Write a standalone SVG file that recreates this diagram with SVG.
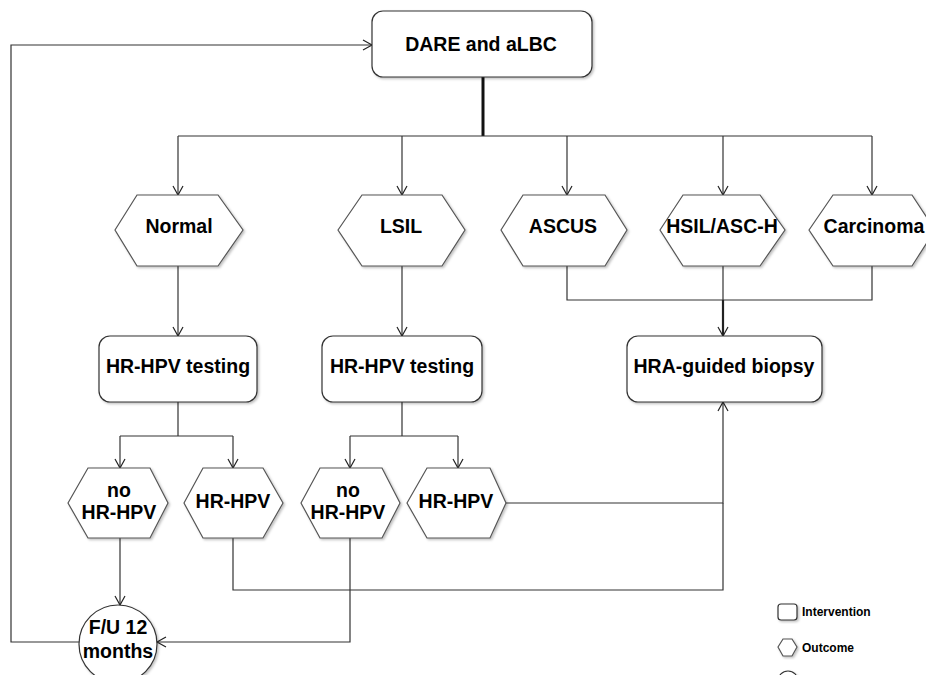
<svg xmlns="http://www.w3.org/2000/svg" width="926" height="675" viewBox="0 0 926 675">
<defs>
<marker id="arr" markerWidth="12" markerHeight="12" refX="10" refY="6" orient="auto" markerUnits="userSpaceOnUse">
<path d="M1,1 L10,6 L1,11" fill="none" stroke="#222" stroke-width="1.2"/>
</marker>
<filter id="sh" x="-10%" y="-10%" width="130%" height="130%">
<feDropShadow dx="1.5" dy="1.5" stdDeviation="1.2" flood-color="#000" flood-opacity="0.25"/>
</filter>
</defs>
<style>
.box{fill:#fff;stroke:#333;stroke-width:1.2;filter:url(#sh)}
.hex{fill:#fff;stroke:#555;stroke-width:1.2;filter:url(#sh)}
.t{font-family:"Liberation Sans",Arial,sans-serif;font-weight:bold;font-size:19.5px;fill:#000;text-anchor:middle}
.lg{font-family:"Liberation Sans",Arial,sans-serif;font-weight:bold;font-size:12px;fill:#000}
.c{fill:none;stroke:#333;stroke-width:1.2}
</style>
<rect width="926" height="675" fill="#fff"/>
<g id="connectors">
<path class="c" d="M483,77 V136" style="stroke-width:3;stroke:#111"/>
<path class="c" d="M178,136 H872"/>
<path class="c" d="M178,136 V195" marker-end="url(#arr)"/>
<path class="c" d="M402,136 V195" marker-end="url(#arr)"/>
<path class="c" d="M567,136 V195" marker-end="url(#arr)"/>
<path class="c" d="M723,136 V195" marker-end="url(#arr)"/>
<path class="c" d="M872,136 V195" marker-end="url(#arr)"/>
<path class="c" d="M178,266 V336" marker-end="url(#arr)"/>
<path class="c" d="M402,266 V336" marker-end="url(#arr)"/>
<path class="c" d="M567,266 V300 H872 V266"/>
<path class="c" d="M723,266 V336" marker-end="url(#arr)"/>
<path class="c" d="M723,300 V335" style="stroke-width:2.2;stroke:#222"/>
<path class="c" d="M178,402 V436 M120,436 H233"/>
<path class="c" d="M120,436 V468" marker-end="url(#arr)"/>
<path class="c" d="M233,436 V468" marker-end="url(#arr)"/>
<path class="c" d="M402,402 V436 M350,436 H458"/>
<path class="c" d="M350,436 V468" marker-end="url(#arr)"/>
<path class="c" d="M458,436 V468" marker-end="url(#arr)"/>
<path class="c" d="M506,503 H723 V402" marker-end="url(#arr)"/>
<path class="c" d="M233,538 V590 H723 V503"/>
<path class="c" d="M120,538 V605" marker-end="url(#arr)"/>
<path class="c" d="M350,538 V642 H157" marker-end="url(#arr)"/>
<path class="c" d="M80,642 H11 V45 H372" marker-end="url(#arr)"/>
</g>
<g id="dare">
<rect class="box" x="372" y="11" width="220" height="66" rx="11"/>
<text class="t" x="481" y="51">DARE and aLBC</text>
</g>
<g id="normal">
<polygon class="hex" points="115,230 137,195 218,195 243,230 218,266 137,266"/>
<text class="t" x="179" y="233">Normal</text>
</g>
<g id="lsil">
<polygon class="hex" points="338,230 362,195 442,195 465,230 442,266 362,266"/>
<text class="t" x="401" y="233">LSIL</text>
</g>
<g id="ascus">
<polygon class="hex" points="501,230 523,195 605,195 627,230 605,266 523,266"/>
<text class="t" x="563" y="233">ASCUS</text>
</g>
<g id="hsil">
<polygon class="hex" points="660,230 683,195 760,195 785,230 760,266 683,266"/>
<text class="t" x="722" y="233">HSIL/ASC-H</text>
</g>
<g id="carcinoma">
<polygon class="hex" points="809,230 833,195 912,195 935,230 912,266 833,266"/>
<text class="t" x="874" y="233">Carcinoma</text>
</g>
<g id="hrhpv-testing-1">
<rect class="box" x="99" y="336" width="158" height="66" rx="11"/>
<text class="t" x="178" y="373">HR-HPV testing</text>
</g>
<g id="hrhpv-testing-2">
<rect class="box" x="322" y="336" width="160" height="66" rx="11"/>
<text class="t" x="402" y="373">HR-HPV testing</text>
</g>
<g id="hra">
<rect class="box" x="627" y="336" width="195" height="66" rx="11"/>
<text class="t" x="724" y="373">HRA-guided biopsy</text>
</g>
<g id="no-hrhpv-1">
<polygon class="hex" points="68,503 88,468 150,468 168,503 150,538 88,538"/>
<text class="t" x="119" y="497">no</text>
<text class="t" x="119" y="519">HR-HPV</text>
</g>
<g id="hrhpv-1">
<polygon class="hex" points="184,503 203,468 263,468 283,503 263,538 203,538"/>
<text class="t" x="233" y="508">HR-HPV</text>
</g>
<g id="no-hrhpv-2">
<polygon class="hex" points="301,503 320,468 382,468 400,503 382,538 320,538"/>
<text class="t" x="348" y="497">no</text>
<text class="t" x="348" y="519">HR-HPV</text>
</g>
<g id="hrhpv-2">
<polygon class="hex" points="407,503 427,468 490,468 506,503 490,538 427,538"/>
<text class="t" x="456" y="508">HR-HPV</text>
</g>
<g id="fu">
<circle class="box" cx="118" cy="644" r="39"/>
<text class="t" x="118" y="634">F/U 12</text>
<text class="t" x="118" y="658">months</text>
</g>
<g id="legend">
<rect class="box" x="778" y="604" width="19" height="16" rx="3"/>
<text class="lg" x="802" y="616">Intervention</text>
<polygon class="hex" points="778,647 783,639 792,639 797,647 792,656 783,656"/>
<text class="lg" x="802" y="652">Outcome</text>
<circle class="box" cx="788" cy="681" r="10"/>
</g>
</svg>
